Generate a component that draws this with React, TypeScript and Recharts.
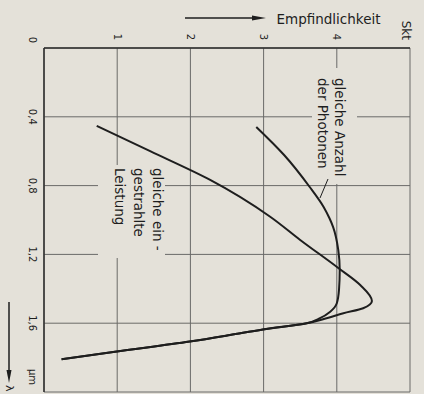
import { LineChart, Line, XAxis, YAxis, CartesianGrid } from "recharts";

// Wellenlänge (µm) und Empfindlichkeit (Skt)
const lambdaTicks = [0, 0.4, 0.8, 1.2, 1.6, 2.0];
const lambdaLabels = ["0", "0,4", "0,8", "1,2", "1,6", "µm"];
const empfTicks = [0, 1, 2, 3, 4, 5];
const empfLabels = ["", "1", "2", "3", "4", "Skt"];

// gleiche eingestrahlte Leistung
const leistungLambda = [0.453, 0.6, 0.767, 0.981, 1.116, 1.279, 1.378, 1.471, 1.513, 1.542, 1.571, 1.6, 1.636, 1.669, 1.707, 1.766, 1.81];
const leistungWert = [0.72, 1.45, 2.27, 3.09, 3.5, 4.02, 4.32, 4.48, 4.36, 4.09, 3.86, 3.59, 2.99, 2.54, 1.99, 0.97, 0.24];

// gleiche Anzahl der Photonen
const photonenLambda = [0.459, 0.622, 0.808, 0.924, 0.99, 1.041, 1.174, 1.291, 1.407, 1.484, 1.533, 1.571, 1.6, 1.636, 1.669, 1.707, 1.766, 1.81];
const photonenWert = [2.9, 3.28, 3.63, 3.82, 3.9, 3.95, 4.02, 4.04, 4.03, 4.0, 3.91, 3.77, 3.59, 2.99, 2.54, 1.99, 0.97, 0.24];

const leistungData = leistungLambda.map((l, i) => ({ lambda: l, wert: leistungWert[i] }));
const photonenData = photonenLambda.map((l, i) => ({ lambda: l, wert: photonenWert[i] }));

const BG = "#e4e1d9";
const INK = "#1e1e1e";
const GRID = "#6a6a68";
const FONT = "DejaVu Sans";

function LambdaTick({ x, y, payload }: any) {
  const i = lambdaTicks.indexOf(payload.value);
  const last = i === lambdaTicks.length - 1;
  let anchor: any = "middle";
  let dx = 0;
  if (i === 0) {
    anchor = "end";
    dx = -5;
  }
  if (last) {
    anchor = "end";
    dx = -7;
  }
  return (
    <text x={x + dx} y={y} dy="0.71em" textAnchor={anchor} fontSize={10} fontFamily={FONT} fill={INK}>
      {lambdaLabels[i] ?? ""}
    </text>
  );
}

function EmpfTick({ x, y, payload }: any) {
  const i = empfTicks.indexOf(payload.value);
  const last = i === empfTicks.length - 1;
  return (
    <text
      x={x}
      y={y + (last ? 4 : 0)}
      dy="0.355em"
      textAnchor="end"
      fontSize={last ? 12 : 10}
      fontFamily={FONT}
      fill={INK}
    >
      {empfLabels[i] ?? ""}
    </text>
  );
}

// Beschriftungen im Diagramm (Pixel im ungedrehten Diagramm)
function Annotations() {
  return (
    <g fontFamily={FONT} fill={INK}>
      <rect x={68} y={67} width={116} height={45} fill={BG} />
      <text x={78} y={84.5} fontSize={13.5} dominantBaseline="central">gleiche Anzahl</text>
      <text x={78} y={101.5} fontSize={13.5} dominantBaseline="central">der Photonen</text>
      <line x1={179} y1={96} x2={198} y2={104} stroke={INK} strokeWidth={1} />

      <rect x={165} y={259} width={93} height={67} fill={BG} />
      <text x={168} y={266} fontSize={13.5} dominantBaseline="central">gleiche ein -</text>
      <text x={168} y={285} fontSize={13.5} dominantBaseline="central">gestrahlte</text>
      <text x={168} y={304} fontSize={13.5} dominantBaseline="central">Leistung</text>

      <line x1={18} y1={239} x2={18} y2={170} stroke={INK} strokeWidth={1.5} />
      <polygon points="18,158 15.5,172 20.5,172" fill={INK} />
      <text
        x={19}
        y={95.5}
        fontSize={13.5}
        textAnchor="middle"
        dominantBaseline="central"
        transform="rotate(-90 19 95.5)"
      >
        Empfindlichkeit
      </text>

      <line x1={302} y1={415} x2={372} y2={415} stroke={INK} strokeWidth={1.5} />
      <polygon points="383,415 370,412.5 370,417.5" fill={INK} />
      <text x={385} y={415} fontSize={11} dominantBaseline="central">λ</text>
    </g>
  );
}

export default function App() {
  return (
    <div
      style={{
        position: "fixed",
        left: 0,
        top: 0,
        width: 424,
        height: 394,
        background: BG,
        overflow: "hidden",
        fontFamily: FONT,
      }}
    >
      <div
        style={{
          position: "absolute",
          left: 0,
          top: 0,
          width: 394,
          height: 424,
          transformOrigin: "0 0",
          transform: "translateX(424px) rotate(90deg)",
        }}
      >
        <LineChart width={394} height={424} margin={{ top: 14, right: 2, bottom: 0, left: 0 }}>
          <CartesianGrid stroke={GRID} strokeWidth={1} />
          <XAxis
            type="number"
            dataKey="lambda"
            domain={[0, 2]}
            ticks={lambdaTicks}
            height={44}
            tickLine={false}
            axisLine={{ stroke: "#2e2e2e", strokeWidth: 1.5 }}
            tick={<LambdaTick />}
            interval={0}
          />
          <YAxis
            type="number"
            domain={[0, 5]}
            ticks={empfTicks}
            width={48}
            tickLine={false}
            axisLine={{ stroke: "#2e2e2e", strokeWidth: 1.5 }}
            tick={<EmpfTick />}
            interval={0}
          />
          <Annotations />
          <Line
            data={leistungData}
            dataKey="wert"
            type="monotone"
            stroke={INK}
            strokeWidth={2}
            dot={false}
            isAnimationActive={false}
          />
          <Line
            data={photonenData}
            dataKey="wert"
            type="monotone"
            stroke={INK}
            strokeWidth={2}
            dot={false}
            isAnimationActive={false}
          />
        </LineChart>
      </div>
    </div>
  );
}
